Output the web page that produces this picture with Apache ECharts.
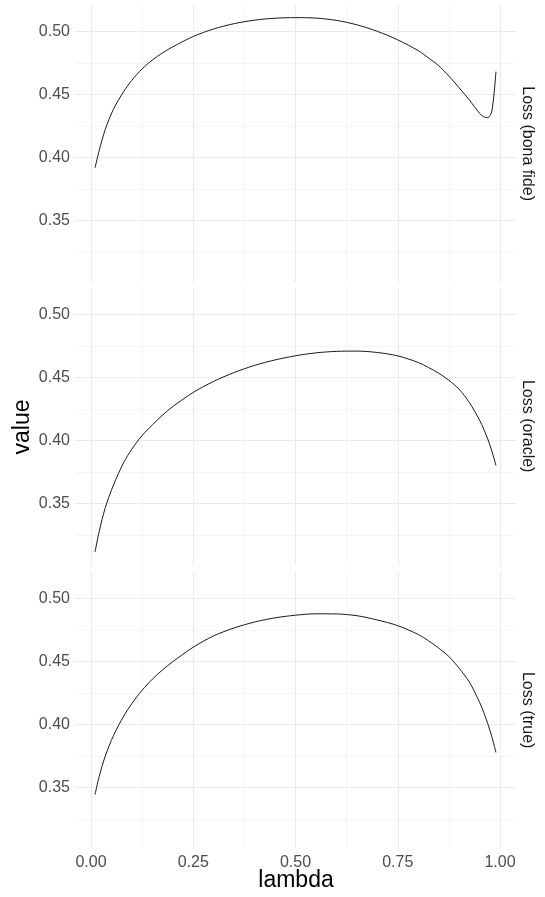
<!DOCTYPE html>
<html>
<head>
<meta charset="utf-8">
<script src="https://cdn.jsdelivr.net/npm/echarts@6/dist/echarts.min.js"></script>
<style>
html,body{margin:0;padding:0;background:#fff;}
#chart{width:545px;height:897px;}
</style>
</head>
<body>
<div id="chart"></div>
<script>
// ---- data ----
var lambdaVals = [0.01,0.02,0.035,0.055,0.08,0.10,0.125,0.15,0.175,0.20,0.25,0.30,0.35,0.40,0.45,0.50,0.55,0.60,0.65,0.70,0.75,0.80,0.825,0.85,0.875,0.90,0.925,0.95,0.96,0.97,0.98,0.99];
var lossBonaFide = [0.392,0.4055,0.4225,0.4385,0.4525,0.4615,0.4705,0.4775,0.4832,0.4880,0.4962,0.5022,0.5064,0.5092,0.5107,0.5112,0.5108,0.5090,0.5055,0.5003,0.4935,0.4850,0.4792,0.4730,0.4648,0.4555,0.4458,0.4352,0.4325,0.4318,0.4370,0.4683];
var lossOracle = [0.3115,0.3275,0.3465,0.3645,0.3823,0.3930,0.4038,0.4122,0.4200,0.4268,0.4380,0.4468,0.4538,0.4595,0.4638,0.4671,0.4694,0.4706,0.4708,0.4697,0.4670,0.4618,0.4578,0.4533,0.4476,0.4405,0.4300,0.4160,0.4090,0.4010,0.3915,0.3800];
var lossTrue = [0.3443,0.3585,0.3748,0.3910,0.4065,0.4165,0.4270,0.4358,0.4432,0.4497,0.4612,0.4702,0.4765,0.4812,0.4845,0.4866,0.4877,0.4876,0.4862,0.4828,0.4783,0.4713,0.4663,0.4605,0.4538,0.4445,0.4335,0.4175,0.4095,0.4005,0.3900,0.3777];
var panelLabels = ['Loss (bona fide)','Loss (oracle)','Loss (true)'];
var xMajorTicks = [0,0.25,0.5,0.75,1];
var xMinorTicks = [0.125,0.375,0.625,0.875];
var yMajorTicks = [0.35,0.40,0.45,0.50];
var yMinorTicks = [0.325,0.375,0.425,0.475];
var xRange = [-0.039,1.039];
var yRange = [0.3012,0.5212];
var xTitle = 'lambda';
var yTitle = 'value';

// ---- layout ----
var panelTops = [5,287.6,571.6];
var panelH = 277.2;
var gridLeft = 75, gridWidth = 441;
var seriesList = [lossBonaFide, lossOracle, lossTrue];

var grids = [], xAxes = [], yAxes = [], series = [], graphics = [];
var FONT = 'Liberation Sans, Arial, sans-serif';

for (var i = 0; i < 3; i++) {
  grids.push({left: gridLeft, top: panelTops[i], width: gridWidth, height: panelH, containLabel: false});
  var bottom = (i === 2);
  // major x
  xAxes.push({
    type: 'value', gridIndex: i, min: xRange[0], max: xRange[1],
    axisLine: {show: false},
    axisTick: {show: false, customValues: xMajorTicks},
    axisLabel: {show: bottom, customValues: xMajorTicks, color: '#4d4d4d', fontSize: 16, fontFamily: FONT, margin: 6,
      formatter: function (v) { return v.toFixed(2); }},
    splitLine: {show: true, lineStyle: {color: '#ebebeb', width: 1.1}}
  });
  // minor x
  xAxes.push({
    type: 'value', gridIndex: i, min: xRange[0], max: xRange[1],
    axisLine: {show: false},
    axisTick: {show: false, customValues: xMinorTicks},
    axisLabel: {show: false, customValues: xMinorTicks},
    splitLine: {show: true, lineStyle: {color: '#f3f3f3', width: 0.8}}
  });
  // major y
  yAxes.push({
    type: 'value', gridIndex: i, min: yRange[0], max: yRange[1],
    axisLine: {show: false},
    axisTick: {show: false, customValues: yMajorTicks},
    axisLabel: {show: true, customValues: yMajorTicks, color: '#4d4d4d', fontSize: 16, fontFamily: FONT, margin: 5,
      formatter: function (v) { return v.toFixed(2); }},
    splitLine: {show: true, lineStyle: {color: '#ebebeb', width: 1.1}}
  });
  // minor y
  yAxes.push({
    type: 'value', gridIndex: i, min: yRange[0], max: yRange[1],
    axisLine: {show: false},
    axisTick: {show: false, customValues: yMinorTicks},
    axisLabel: {show: false, customValues: yMinorTicks},
    splitLine: {show: true, lineStyle: {color: '#f3f3f3', width: 0.8}}
  });
  var vals = seriesList[i];
  series.push({
    type: 'line', xAxisIndex: i * 2, yAxisIndex: i * 2,
    data: lambdaVals.map(function (l, k) { return [l, vals[k]]; }),
    showSymbol: false, symbol: 'none', smooth: 0.3,
    lineStyle: {color: '#000', width: 0.9},
    silent: true, animation: false, z: 5
  });
  graphics.push({
    type: 'text', x: 527, y: panelTops[i] + panelH / 2, rotation: -Math.PI / 2,
    style: {text: panelLabels[i], fill: '#1a1a1a', font: '16px ' + FONT, align: 'center', verticalAlign: 'middle'}
  });
}
graphics.push({
  type: 'text', x: 23, y: 427, rotation: Math.PI / 2,
  style: {text: yTitle, fill: '#000', font: '23px ' + FONT, align: 'center', verticalAlign: 'middle'}
});
graphics.push({
  type: 'text', x: 296, y: 881,
  style: {text: xTitle, fill: '#000', font: '23px ' + FONT, align: 'center', verticalAlign: 'middle'}
});

var chart = echarts.init(document.getElementById('chart'), null, {renderer: 'canvas'});
chart.setOption({
  backgroundColor: '#ffffff',
  animation: false,
  grid: grids,
  xAxis: xAxes,
  yAxis: yAxes,
  series: series,
  graphic: graphics
});
</script>
</body>
</html>
